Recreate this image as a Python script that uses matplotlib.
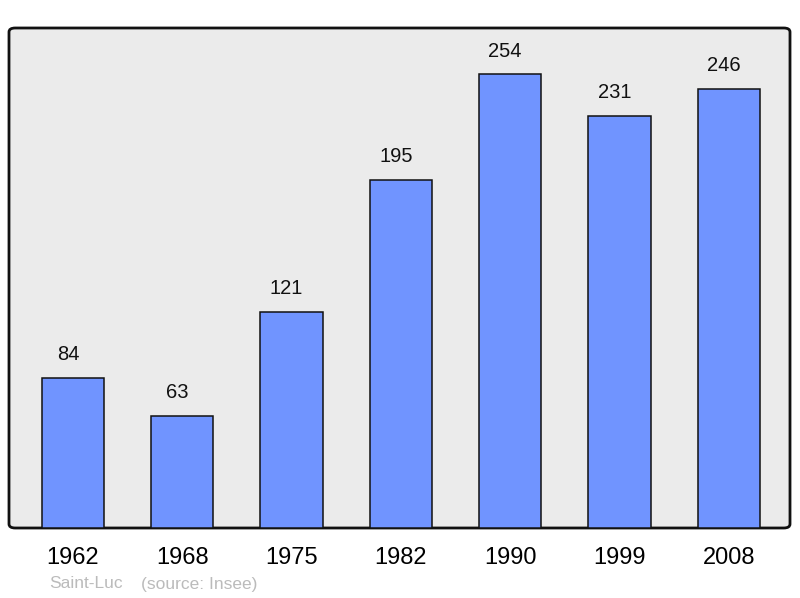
import matplotlib.pyplot as plt
from matplotlib.patches import FancyBboxPatch

years = ["1962", "1968", "1975", "1982", "1990", "1999", "2008"]
population = [84, 63, 121, 195, 254, 231, 246]
commune = "Saint-Luc"
source = "(source: Insee)"

plt.rcParams['font.family'] = ['Liberation Sans', 'DejaVu Sans']

fig = plt.figure(figsize=(8, 5.98), dpi=100)
ax = fig.add_axes([9/800, 70/598, 781/800, 500/598])
ax.set_facecolor('none')

# rounded background frame behind the bars
frame = FancyBboxPatch((0, 0), 1, 1,
                       boxstyle="round,pad=0,rounding_size=0.008",
                       transform=ax.transAxes, facecolor='#ebebeb',
                       edgecolor='#111111', linewidth=2, zorder=0,
                       clip_on=False)
ax.add_patch(frame)

x = range(len(years))
bars = ax.bar(x, population, width=0.57, color='#7094ff',
              edgecolor='#111111', linewidth=1.1, zorder=2)
for b, v in zip(bars, population):
    ax.annotate(str(v), (b.get_x() + b.get_width()/2, v),
                xytext=(-3.6, 10), textcoords='offset points',
                ha='center', va='bottom', fontsize=14.5, color='#111111')

ax.set_xlim(-0.585, 6.56)
ax.set_ylim(0, 280)
ax.set_yticks([])
ax.set_xticks(list(x))
ax.set_xticklabels(years, fontsize=17)
ax.tick_params(axis='x', length=0, pad=14)
for s in ax.spines.values():
    s.set_visible(False)

fig.text(49/800, 1 - 584/598, commune, fontsize=12.5, color='#bbbbbb', va='center')
fig.text(141/800, 1 - 584/598, source, fontsize=12.5, color='#bbbbbb', va='center')

fig.savefig("out.png", dpi=100)
